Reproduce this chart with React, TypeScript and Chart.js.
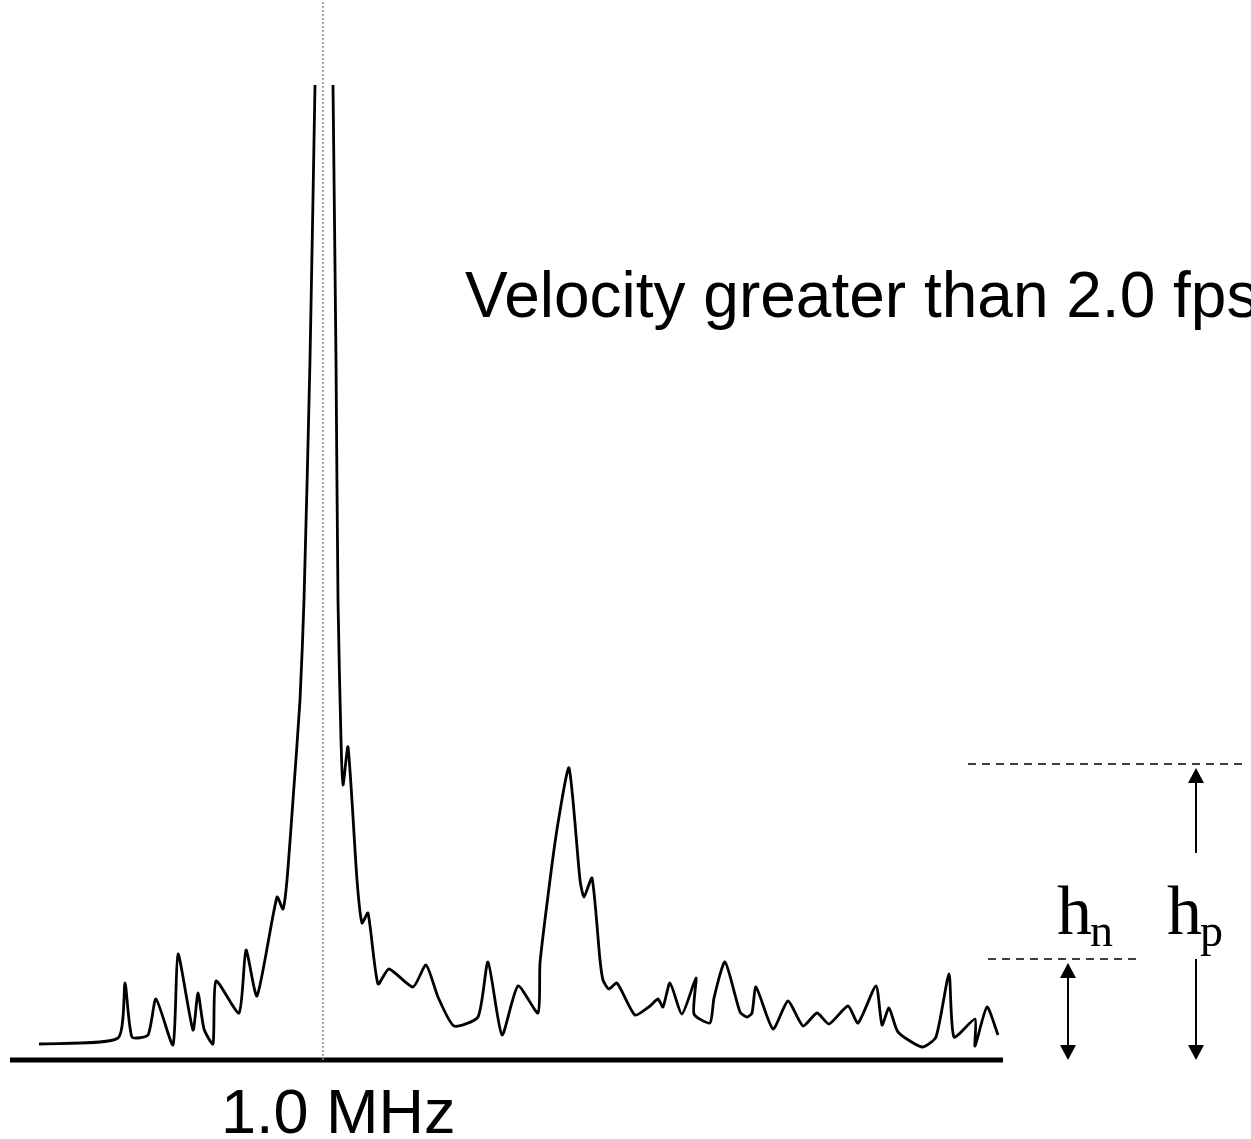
import React, { useEffect, useRef } from "react";
import { Chart, registerables } from "chart.js";

Chart.register(...registerables);

// Spectrum trace (frequency units along the axis, amplitude above baseline)
const freq: number[] = [
  39, 118, 125, 132, 148, 156, 173, 178, 193, 198, 204, 213, 216, 239, 246, 257, 277, 283, 287, 293,
  300, 304, 310, 315, 324, 333, 336, 338, 341, 343, 348, 357, 362, 368, 378, 389, 413, 426, 438, 454,
  478, 488, 502, 518, 538, 540, 550, 558, 569, 580, 584, 592, 600, 603, 609, 617, 635, 650, 658, 663,
  670, 682, 696, 694, 710, 714, 725, 740, 747, 752, 756, 773, 788, 803, 817, 829, 848, 858, 876, 882,
  889, 898, 922, 936, 949, 954, 975, 975, 987, 998,
];
const amp: (number | null)[] = [
  16, 22, 77, 23, 25, 61, 15, 106, 30, 67, 31, 16, 79, 47, 110, 64, 163, 151, 180, 260,
  360, 460, 700, 975, null, 975, 700, 460, 320, 275, 313, 180, 137, 147, 76, 91, 73, 95, 63, 34,
  43, 98, 25, 74, 47, 97, 180, 237, 292, 180, 163, 182, 100, 80, 71, 77, 45, 54, 61, 53,
  77, 46, 82, 46, 37, 62, 98, 48, 43, 47, 73, 31, 59, 34, 47, 36, 54, 37, 74, 35,
  52, 28, 13, 23, 86, 23, 41, 14, 53, 25,
];

const baselineX: number[] = [10, 1003];
const carrierFreq = 323; // 1.0 MHz marker
const carrierTop = 1060;
const noiseLevel = 101;
const peakLevel = 296;
const noiseLineX: number[] = [988, 1136];
const peakLineX: number[] = [968, 1244];
const hnArrowX = 1068;
const hpArrowX = 1196;
const hpGapTop = 207;

const titleText = "Velocity greater than 2.0 fps";
const axisText = "1.0 MHz";

const annotationPlugin = {
  id: "annot",
  afterDatasetsDraw(chart: any) {
    const ctx = chart.ctx as CanvasRenderingContext2D;
    const xs = chart.scales.x;
    const ys = chart.scales.y;
    const px = (v: number) => xs.getPixelForValue(v);
    const py = (v: number) => ys.getPixelForValue(v);
    ctx.save();
    ctx.strokeStyle = "#000";
    ctx.fillStyle = "#000";
    ctx.lineWidth = 2;

    const head = (x: number, tipY: number, dir: number) => {
      ctx.beginPath();
      ctx.moveTo(x, tipY);
      ctx.lineTo(x - 8, tipY - dir * 15);
      ctx.lineTo(x + 8, tipY - dir * 15);
      ctx.closePath();
      ctx.fill();
    };
    // h_n double arrow
    const xn = px(hnArrowX);
    ctx.beginPath();
    ctx.moveTo(xn, py(noiseLevel) + 6);
    ctx.lineTo(xn, py(0) - 6);
    ctx.stroke();
    head(xn, py(noiseLevel) + 4, -1);
    head(xn, py(0), 1);
    // h_p arrow (split)
    const xp = px(hpArrowX);
    ctx.beginPath();
    ctx.moveTo(xp, py(hpGapTop));
    ctx.lineTo(xp, py(peakLevel) + 8);
    ctx.stroke();
    head(xp, py(peakLevel) + 4, -1);
    ctx.beginPath();
    ctx.moveTo(xp, py(noiseLevel));
    ctx.lineTo(xp, py(0) - 8);
    ctx.stroke();
    head(xp, py(0), 1);

    // Texts
    ctx.textBaseline = "alphabetic";
    ctx.textAlign = "left";
    ctx.font = "64px 'Liberation Sans', Arial, sans-serif";
    ctx.fillText(titleText, 465, 317);
    ctx.font = "63px 'Liberation Sans', Arial, sans-serif";
    ctx.fillText(axisText, 221, 1133);

    ctx.font = "70px 'Liberation Serif', 'Times New Roman', serif";
    ctx.fillText("h", 1057, 934);
    ctx.fillText("h", 1167, 934);
    ctx.font = "46px 'Liberation Serif', 'Times New Roman', serif";
    ctx.fillText("n", 1090, 946);
    ctx.fillText("p", 1200, 946);
    ctx.restore();
  },
};

export default function App() {
  const ref = useRef<HTMLCanvasElement | null>(null);
  useEffect(() => {
    document.body.style.margin = "0";
    const canvas = ref.current;
    if (!canvas) return;
    const trace = freq.map((x, i) => ({ x, y: amp[i] }));
    const chart = new Chart(canvas, {
      type: "line",
      data: {
        datasets: [
          {
            data: [
              { x: carrierFreq, y: 0 },
              { x: carrierFreq, y: carrierTop },
            ],
            borderColor: "#8a8a8a",
            borderWidth: 1.5,
            borderDash: [2, 2],
            pointRadius: 0,
            tension: 0,
          },
          {
            data: trace as any,
            borderColor: "#000",
            borderWidth: 2.8,
            pointRadius: 0,
            tension: 0.2,
            spanGaps: false,
          },
          {
            data: baselineX.map((x) => ({ x, y: 0 })),
            borderColor: "#000",
            borderWidth: 5,
            pointRadius: 0,
          },
          {
            data: noiseLineX.map((x) => ({ x, y: noiseLevel })),
            borderColor: "#000",
            borderWidth: 1.3,
            borderDash: [8, 6],
            pointRadius: 0,
          },
          {
            data: peakLineX.map((x) => ({ x, y: peakLevel })),
            borderColor: "#000",
            borderWidth: 1.3,
            borderDash: [8, 6],
            pointRadius: 0,
          },
        ],
      },
      options: {
        animation: false,
        responsive: false,
        maintainAspectRatio: false,
        layout: { padding: 0 },
        scales: {
          x: { type: "linear", min: 0, max: 1251, display: false },
          y: { type: "linear", min: -79, max: 1060, display: false },
        },
        plugins: { legend: { display: false }, tooltip: { enabled: false } },
        clip: false as any,
      },
      plugins: [annotationPlugin],
    });
    return () => chart.destroy();
  }, []);
  return (
    <div style={{ position: "absolute", left: 0, top: 0, width: 1251, height: 1139, background: "#fff" }}>
      <canvas ref={ref} width={1251} height={1139} style={{ display: "block", width: 1251, height: 1139 }} />
    </div>
  );
}
